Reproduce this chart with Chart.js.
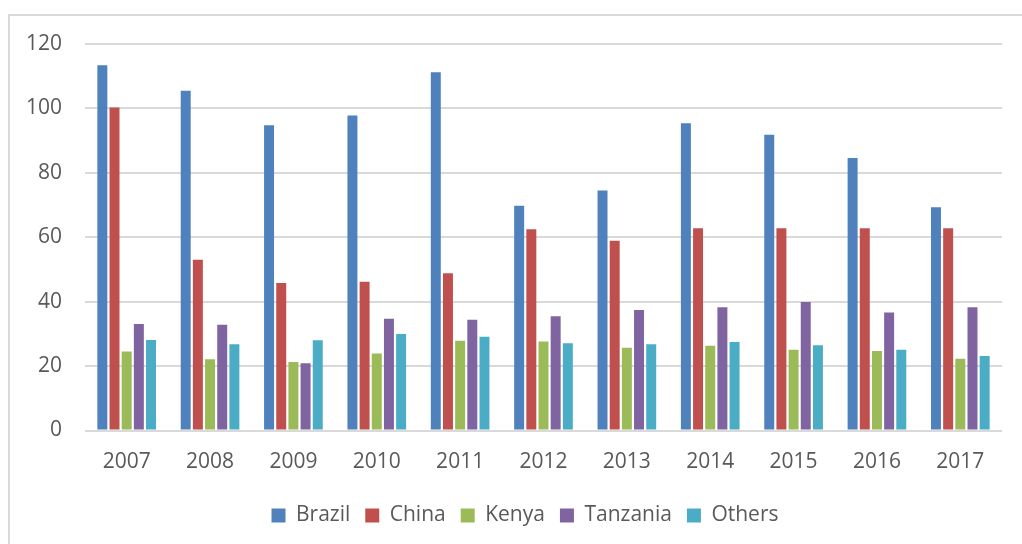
<!DOCTYPE html>
<html>
<head>
<meta charset="utf-8">
<script src="https://cdn.jsdelivr.net/npm/chart.js@4.4.1/dist/chart.umd.min.js"></script>
<style>
  html, body { margin: 0; padding: 0; background: #ffffff; }
  #wrap { position: relative; width: 1022px; height: 544px; overflow: hidden; }
  #frame {
    position: absolute; left: 8px; top: 14px; width: 1100px; height: 600px;
    border: 2px solid #d9d9d9; box-sizing: border-box; pointer-events: none;
  }
  canvas { position: absolute; left: 0; top: 0; }
</style>
</head>
<body>
<div id="wrap">
  <div id="frame"></div>
  <canvas id="chart" width="1022" height="544"></canvas>
</div>
<script>
// Yearly figures per producer
const years = ['2007', '2008', '2009', '2010', '2011', '2012', '2013', '2014', '2015', '2016', '2017'];
const brazil   = [113.4, 105.5, 94.8, 97.8, 111.2, 69.8, 74.5, 95.4, 91.8, 84.6, 69.3];
const china    = [100.3, 53.0, 45.8, 46.2, 48.8, 62.5, 58.9, 62.8, 62.8, 62.8, 62.8];
const kenya    = [24.5, 22.1, 21.3, 23.9, 27.9, 27.6, 25.7, 26.3, 25.1, 24.7, 22.3];
const tanzania = [33.1, 32.8, 20.9, 34.7, 34.4, 35.5, 37.4, 38.3, 39.9, 36.6, 38.3];
const others   = [28.1, 26.8, 28.0, 30.0, 29.1, 27.1, 26.8, 27.5, 26.5, 25.1, 23.1];
const yTicks   = [0, 20, 40, 60, 80, 100, 120];

const seriesNames  = ['Brazil', 'China', 'Kenya', 'Tanzania', 'Others'];
const seriesValues = [brazil, china, kenya, tanzania, others];
const seriesColors = ['#4F81BD', '#C0504D', '#9BBB59', '#8064A2', '#4BACC6'];

const textColor = '#595959';
const font = { family: '"Open Sans", "Liberation Sans", sans-serif', size: 21 };

// The legend sits centred on the whole framed area, a little right of the canvas centre
const legendShift = {
  id: 'legendShift',
  afterLayout(chart) {
    const lg = chart.legend;
    if (lg) { lg.left += 24; lg.right += 24; }
  }
};

new Chart(document.getElementById('chart'), {
  type: 'bar',
  data: {
    labels: years,
    datasets: seriesNames.map((name, i) => ({
      label: name,
      data: seriesValues[i],
      backgroundColor: seriesColors[i],
      borderWidth: 0,
      barPercentage: 0.82,
      categoryPercentage: 0.73
    }))
  },
  plugins: [legendShift],
  options: {
    responsive: false,
    animation: false,
    layout: { padding: { top: 44, right: 20, bottom: 8, left: 0 } },
    plugins: {
      tooltip: { enabled: false },
      legend: {
        position: 'bottom',
        labels: {
          boxWidth: 14,
          boxHeight: 14,
          padding: 15,
          color: textColor,
          font: font
        }
      }
    },
    scales: {
      x: {
        grid: { display: false, drawTicks: false },
        border: { display: false },
        ticks: { color: textColor, font: font, padding: 19, maxRotation: 0 },
        afterFit: (s) => { s.height = 59.5; }
      },
      y: {
        min: 0,
        max: 120,
        afterBuildTicks: (s) => { s.ticks = yTicks.map(v => ({ value: v })); },
        grid: { color: '#d9d9d9', lineWidth: 2, drawTicks: false },
        border: { display: false },
        ticks: { color: textColor, font: font, padding: 23 },
        afterFit: (s) => { s.width = 85; }
      }
    }
  }
});
</script>
</body>
</html>
